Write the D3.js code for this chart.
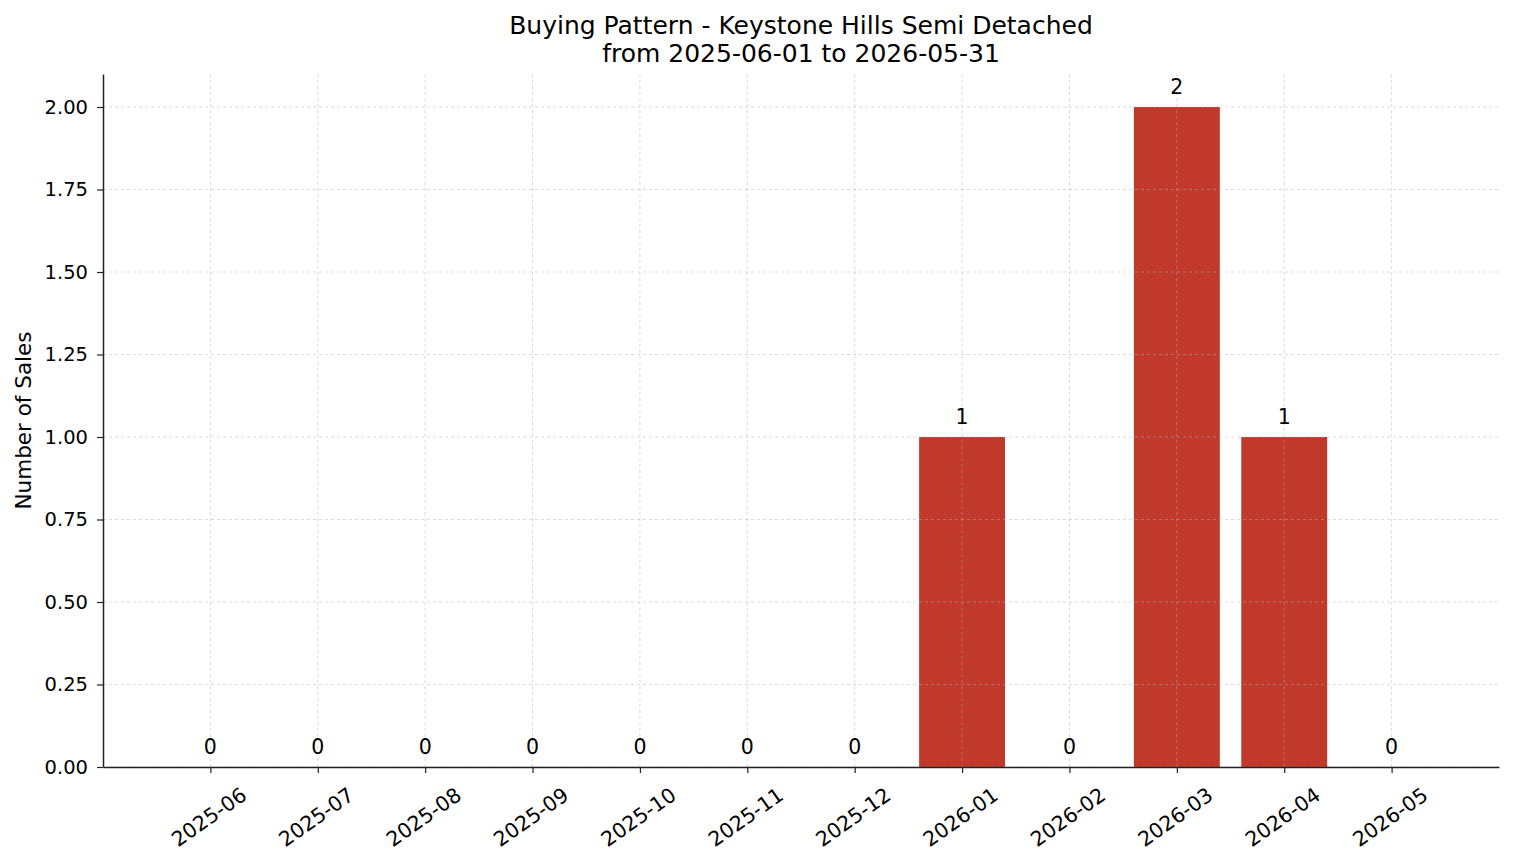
<!DOCTYPE html>
<html>
<head>
<meta charset="utf-8">
<script src="https://cdn.jsdelivr.net/npm/d3@7"></script>
<style>
  body { margin: 0; background: #fff; }
  text { font-family: "DejaVu Sans", sans-serif; fill: #000; }
</style>
</head>
<body>
<div id="chart"></div>
<script>
// data
const months = ['2025-06','2025-07','2025-08','2025-09','2025-10','2025-11',
                '2025-12','2026-01','2026-02','2026-03','2026-04','2026-05']
const sales = [0,0,0,0,0,0,0,1,0,2,1,0]
const yTicks = [0,0.25,0.5,0.75,1,1.25,1.5,1.75,2]
const titleLines = ['Buying Pattern - Keystone Hills Semi Detached','from 2025-06-01 to 2026-05-31']

const width = 1514, height = 863
const margin = {top: 74, right: 15, bottom: 96, left: 103}
const tickFont = 19.5

const svg = d3.select('#chart')
              .append('svg')
              .attr('width', width)
              .attr('height', height)

// x in "index" units, one extra slot on each side like the reference
const x = d3.scaleLinear()
            .domain([-1, months.length])
            .range([margin.left, width - margin.right])
const y = d3.scaleLinear()
            .domain([0, 2.1])
            .range([height - margin.bottom, margin.top])
const barW = (x(1) - x(0)) * 0.8

// grid
const grid = svg.append('g')
grid.selectAll('.hgrid')
    .data(yTicks)
    .join('line')
    .attr('class','hgrid')
    .attr('x1', margin.left).attr('x2', width - margin.right)
    .attr('y1', d => y(d)).attr('y2', d => y(d))

grid.selectAll('.vgrid')
    .data(months)
    .join('line')
    .attr('class','vgrid')
    .attr('x1', (d,i) => x(i)).attr('x2', (d,i) => x(i))
    .attr('y1', margin.top).attr('y2', height - margin.bottom)

// bars
svg.selectAll('.bar')
   .data(sales)
   .join('rect')
   .attr('class','bar')
   .attr('x', (d,i) => x(i) - barW/2)
   .attr('y', d => y(d))
   .attr('width', barW)
   .attr('height', d => y(0) - y(d))
   .attr('fill', '#c0392b')

// grid drawn on top of the bars
grid.raise()
grid.selectAll('line')
    .attr('stroke', '#b0b0b0')
    .attr('stroke-opacity', 0.6)
    .attr('stroke-width', 0.8)
    .attr('stroke-dasharray', '3,3')

// value labels
svg.selectAll('.val')
   .data(sales)
   .join('text')
   .attr('class','val')
   .attr('x', (d,i) => x(i))
   .attr('y', d => y(d) - 13)
   .attr('text-anchor','middle')
   .attr('font-size', '20.5px')
   .text(d => d)

// y axis
const yAxis = svg.append('g')
   .attr('transform', `translate(${margin.left},0)`)
   .call(d3.axisLeft(y).tickValues(yTicks).tickFormat(d3.format('.2f'))
           .tickSize(6).tickSizeOuter(0).tickPadding(9))
yAxis.select('.domain').attr('stroke','#222').attr('stroke-width',1.5)
yAxis.selectAll('.tick line').attr('stroke','#222').attr('stroke-width',1.2)
yAxis.selectAll('.tick text')
     .attr('font-size', tickFont + 'px')
     .attr('font-family','DejaVu Sans')
     .attr('fill','#000')

// x axis
const xAxis = svg.append('g')
   .attr('transform', `translate(0,${height - margin.bottom})`)
   .call(d3.axisBottom(x).tickValues(d3.range(months.length)).tickFormat(i => months[i])
           .tickSize(6).tickSizeOuter(0))
xAxis.select('.domain').attr('stroke','#222').attr('stroke-width',1.5)
xAxis.selectAll('.tick line').attr('stroke','#222').attr('stroke-width',1.2)
xAxis.selectAll('.tick text')
     .attr('font-size', '20.5px')
     .attr('font-family','DejaVu Sans')
     .attr('fill','#000')
     .attr('y', 0)
     .attr('dy','0.35em')
     .attr('text-anchor','middle')
     .attr('transform', 'translate(-2,50) rotate(-35)')

// y label
svg.append('text')
   .attr('transform', `translate(31,${(margin.top + height - margin.bottom)/2}) rotate(-90)`)
   .attr('text-anchor','middle')
   .attr('font-size','21.5px')
   .text('Number of Sales')

// title
svg.selectAll('.title')
   .data(titleLines)
   .join('text')
   .attr('class','title')
   .attr('x', (margin.left + width - margin.right)/2)
   .attr('y', (d,i) => 34 + i*28)
   .attr('text-anchor','middle')
   .attr('font-size','25px')
   .text(d => d)
</script>
</body>
</html>
